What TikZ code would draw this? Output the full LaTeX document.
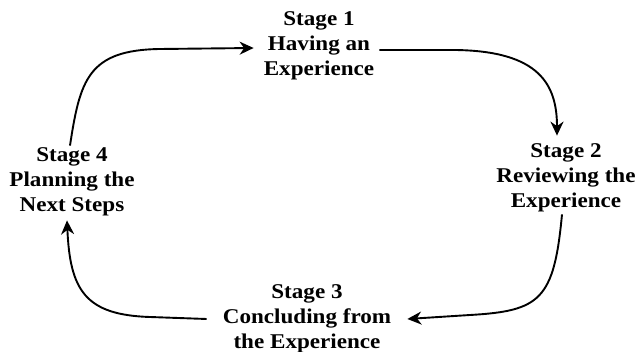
\documentclass[tikz,border=0pt]{standalone}
\usepackage{fontspec}
\setmainfont[FakeStretch=1.1]{Liberation Serif}
\usetikzlibrary{arrows.meta}
\begin{document}
\begin{tikzpicture}[x=1pt,y=-1pt,
  stagebox/.style={align=center,inner sep=2pt,font=\fontsize{21}{25}\selectfont\bfseries},
  cycarrow/.style={line width=1.9pt,-{Stealth[length=14pt,width=13pt,inset=4.5pt]}}]
\useasboundingbox (0,0) rectangle (638,352);
\node[stagebox] (s1) at (319,46) {Stage 1\\Having an\\Experience};
\node[stagebox] (s2) at (566,178) {Stage 2\\Reviewing the\\Experience};
\node[stagebox] (s3) at (307,319) {Stage 3\\Concluding from\\the Experience};
\node[stagebox] (s4) at (72,182) {Stage 4\\Planning the\\Next Steps};
\draw[cycarrow] ([xshift=-2pt]s4.north) .. controls (80,80) and (88,50) .. (160,49) -- ([xshift=-8pt,yshift=-2pt]s1.west);
\draw[cycarrow] ([xshift=3pt,yshift=-4pt]s1.east) -- (455,50) .. controls (540,51) and (557,85) .. ([xshift=-9pt,yshift=6pt]s2.north);
\draw[cycarrow] ([xshift=-4pt]s2.south) .. controls (554,300) and (540,311) .. (470,315) -- ([xshift=14pt]s3.east |- s3.center);
\draw[cycarrow] ([xshift=-14pt]s3.west |- s3.center) -- (150,317) .. controls (85,315) and (70,290) .. ([xshift=-5pt,yshift=-2pt]s4.south);
\end{tikzpicture}
\end{document}
